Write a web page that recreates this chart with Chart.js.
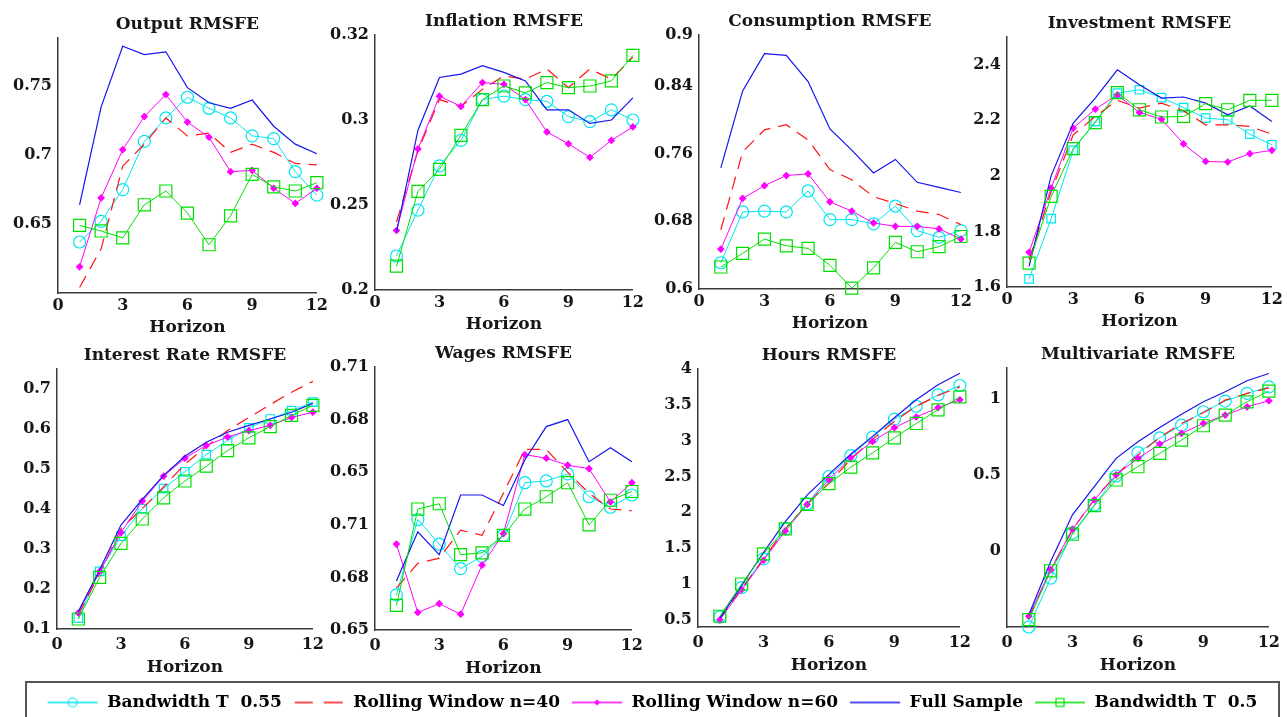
<!DOCTYPE html>
<html>
<head>
<meta charset="utf-8">
<script src="https://cdn.jsdelivr.net/npm/chart.js@4.4.1/dist/chart.umd.min.js"></script>
<style>
  body { margin: 0; width: 1287px; height: 717px; overflow: hidden; background: #fff; position: relative; }
  canvas { position: absolute; }
  #legendBox { position: absolute; left: 25px; top: 681px; width: 1255px; height: 50px; border: 2px solid #555; box-sizing: border-box; }
</style>
</head>
<body>
<div id="legendBox"></div>
<script>
const horizons = [1, 2, 3, 4, 5, 6, 7, 8, 9, 10, 11, 12];
const seriesLabels = ['Bandwidth T  0.55', 'Rolling Window n=40', 'Rolling Window n=60', 'Full Sample', 'Bandwidth T  0.5'];
const xTicks = [0, 3, 6, 9, 12];

// Output RMSFE
const outputBw055 = [0.637, 0.652, 0.675, 0.710, 0.727, 0.742, 0.734, 0.727, 0.714, 0.712, 0.688, 0.671];
const outputRw40  = [0.604, 0.632, 0.692, 0.708, 0.727, 0.714, 0.716, 0.702, 0.708, 0.702, 0.694, 0.693];
const outputRw60  = [0.619, 0.669, 0.704, 0.728, 0.744, 0.724, 0.713, 0.688, 0.689, 0.676, 0.665, 0.676];
const outputFull  = [0.664, 0.735, 0.779, 0.773, 0.775, 0.749, 0.738, 0.734, 0.740, 0.721, 0.708, 0.701];
const outputBw05  = [0.649, 0.645, 0.640, 0.664, 0.674, 0.658, 0.635, 0.656, 0.686, 0.677, 0.674, 0.680];
const outputTicks = [0.65, 0.7, 0.75];

// Inflation RMSFE
const inflationBw055 = [0.220, 0.247, 0.273, 0.288, 0.312, 0.314, 0.312, 0.311, 0.302, 0.299, 0.306, 0.300];
const inflationRw40  = [0.240, 0.282, 0.312, 0.308, 0.318, 0.326, 0.324, 0.330, 0.319, 0.330, 0.324, 0.337];
const inflationRw60  = [0.235, 0.283, 0.314, 0.308, 0.322, 0.321, 0.312, 0.293, 0.286, 0.278, 0.288, 0.296];
const inflationFull  = [0.234, 0.294, 0.325, 0.327, 0.332, 0.328, 0.323, 0.306, 0.306, 0.298, 0.300, 0.313];
const inflationBw05  = [0.214, 0.258, 0.271, 0.291, 0.312, 0.320, 0.316, 0.322, 0.319, 0.320, 0.323, 0.338];
const inflationTicks = [0.2, 0.25, 0.3, 0.35];
const inflationTickLabels = ['0.2', '0.25', '0.3', '0.32'];

// Consumption RMSFE
const consumptionBw055 = [0.631, 0.691, 0.692, 0.691, 0.716, 0.682, 0.682, 0.677, 0.698, 0.669, 0.661, 0.669];
const consumptionRw40  = [0.670, 0.762, 0.788, 0.794, 0.776, 0.741, 0.729, 0.709, 0.701, 0.692, 0.688, 0.676];
const consumptionRw60  = [0.647, 0.707, 0.722, 0.734, 0.736, 0.703, 0.692, 0.678, 0.674, 0.674, 0.671, 0.659];
const consumptionFull  = [0.743, 0.834, 0.878, 0.876, 0.845, 0.789, 0.764, 0.737, 0.753, 0.726, 0.720, 0.714];
const consumptionBw05  = [0.626, 0.642, 0.659, 0.651, 0.648, 0.628, 0.601, 0.625, 0.655, 0.644, 0.650, 0.662];
const consumptionTicks = [0.6, 0.68, 0.76, 0.84, 0.9];

// Investment RMSFE
const investmentBw055 = [1.629, 1.846, 2.092, 2.196, 2.298, 2.310, 2.282, 2.246, 2.208, 2.202, 2.150, 2.112];
const investmentRw40  = [1.698, 1.944, 2.148, 2.214, 2.272, 2.244, 2.262, 2.234, 2.184, 2.184, 2.178, 2.150];
const investmentRw60  = [1.725, 1.956, 2.172, 2.240, 2.292, 2.228, 2.204, 2.115, 2.052, 2.050, 2.080, 2.092];
const investmentFull  = [1.674, 2.000, 2.190, 2.280, 2.382, 2.328, 2.280, 2.284, 2.262, 2.220, 2.252, 2.196];
const investmentBw05  = [1.686, 1.926, 2.098, 2.192, 2.300, 2.238, 2.212, 2.214, 2.260, 2.238, 2.272, 2.272];
const investmentTicks = [1.6, 1.8, 2, 2.2, 2.4];

// Interest Rate RMSFE
const interestBw055 = [0.127, 0.244, 0.332, 0.401, 0.451, 0.493, 0.536, 0.571, 0.603, 0.625, 0.646, 0.667];
const interestRw40  = [0.136, 0.239, 0.351, 0.401, 0.455, 0.512, 0.556, 0.596, 0.629, 0.661, 0.692, 0.719];
const interestRw60  = [0.140, 0.244, 0.341, 0.420, 0.482, 0.527, 0.559, 0.580, 0.596, 0.609, 0.629, 0.642];
const interestFull  = [0.144, 0.248, 0.360, 0.424, 0.484, 0.532, 0.567, 0.592, 0.609, 0.625, 0.642, 0.664];
const interestBw05  = [0.125, 0.229, 0.314, 0.375, 0.428, 0.470, 0.507, 0.546, 0.578, 0.606, 0.634, 0.659];
const interestTicks = [0.1, 0.2, 0.3, 0.4, 0.5, 0.6, 0.7];

// Wages RMSFE
const wagesBw055 = [0.580, 0.623, 0.609, 0.595, 0.602, 0.614, 0.644, 0.645, 0.649, 0.636, 0.630, 0.637];
const wagesRw40  = [0.584, 0.598, 0.601, 0.617, 0.614, 0.638, 0.663, 0.663, 0.650, 0.638, 0.629, 0.628];
const wagesRw60  = [0.609, 0.570, 0.575, 0.569, 0.597, 0.615, 0.660, 0.658, 0.654, 0.652, 0.633, 0.644];
const wagesFull  = [0.588, 0.616, 0.603, 0.637, 0.637, 0.631, 0.657, 0.676, 0.680, 0.656, 0.664, 0.656];
const wagesBw05  = [0.574, 0.629, 0.632, 0.603, 0.604, 0.614, 0.629, 0.636, 0.644, 0.620, 0.634, 0.639];
const wagesTicks = [0.56, 0.59, 0.62, 0.65, 0.68, 0.71];
const wagesTickLabels = ['0.65', '0.68', '0.71', '0.65', '0.68', '0.71'];

// Hours RMSFE
const hoursBw055 = [0.54, 0.95, 1.35, 1.77, 2.12, 2.50, 2.79, 3.05, 3.30, 3.48, 3.64, 3.77];
const hoursRw40  = [0.51, 0.93, 1.35, 1.77, 2.11, 2.41, 2.74, 3.02, 3.27, 3.48, 3.63, 3.75];
const hoursRw60  = [0.50, 0.92, 1.33, 1.74, 2.11, 2.46, 2.76, 2.99, 3.18, 3.33, 3.46, 3.57];
const hoursFull  = [0.52, 0.98, 1.44, 1.87, 2.24, 2.53, 2.81, 3.06, 3.32, 3.57, 3.78, 3.94];
const hoursBw05  = [0.55, 1.00, 1.42, 1.77, 2.11, 2.40, 2.63, 2.83, 3.04, 3.24, 3.43, 3.61];
const hoursTicks = [0.5, 1, 1.5, 2, 2.5, 3, 3.5, 4];

// Multivariate RMSFE
const multiBw055 = [-0.500, -0.179, 0.116, 0.301, 0.491, 0.644, 0.742, 0.825, 0.913, 0.983, 1.033, 1.076];
const multiRw40  = [-0.441, -0.124, 0.138, 0.338, 0.498, 0.629, 0.745, 0.836, 0.906, 0.989, 1.033, 1.070];
const multiRw60  = [-0.430, -0.124, 0.142, 0.334, 0.498, 0.607, 0.701, 0.771, 0.836, 0.891, 0.945, 0.985];
const multiFull  = [-0.419, -0.070, 0.236, 0.421, 0.607, 0.716, 0.810, 0.897, 0.978, 1.044, 1.116, 1.164];
const multiBw05  = [-0.452, -0.131, 0.109, 0.297, 0.465, 0.552, 0.640, 0.727, 0.821, 0.891, 0.978, 1.048];
const multiTicks = [0, 0.5, 1];

// panel layout: chart area box [left, top, right, bottom] in page pixels
const panels = [
  { title: 'Output RMSFE', series: [outputBw055, outputRw40, outputRw60, outputFull, outputBw05], min: 0.6, max: 0.785, ticks: outputTicks, box: [58, 38, 317, 293], cyan: 'circle' },
  { title: 'Inflation RMSFE', series: [inflationBw055, inflationRw40, inflationRw60, inflationFull, inflationBw05], min: 0.2, max: 0.35, ticks: inflationTicks, labels: inflationTickLabels, box: [375, 35, 633, 290], cyan: 'circle' },
  { title: 'Consumption RMSFE', series: [consumptionBw055, consumptionRw40, consumptionRw60, consumptionFull, consumptionBw05], min: 0.6, max: 0.9, ticks: consumptionTicks, box: [699, 35, 961, 289], cyan: 'circle' },
  { title: 'Investment RMSFE', series: [investmentBw055, investmentRw40, investmentRw60, investmentFull, investmentBw05], min: 1.6, max: 2.5, ticks: investmentTicks, box: [1007, 37, 1272, 287], cyan: 'rect' },
  { title: 'Interest Rate RMSFE', series: [interestBw055, interestRw40, interestRw60, interestFull, interestBw05], min: 0.1, max: 0.75, ticks: interestTicks, box: [57, 369, 316, 629], cyan: 'rect' },
  { title: 'Wages RMSFE', series: [wagesBw055, wagesRw40, wagesRw60, wagesFull, wagesBw05], min: 0.56, max: 0.71, ticks: wagesTicks, labels: wagesTickLabels, box: [375, 367, 635, 630], cyan: 'circle' },
  { title: 'Hours RMSFE', series: [hoursBw055, hoursRw40, hoursRw60, hoursFull, hoursBw05], min: 0.4, max: 4, ticks: hoursTicks, box: [698, 369, 963, 627], cyan: 'circle' },
  { title: 'Multivariate RMSFE', series: [multiBw055, multiRw40, multiRw60, multiFull, multiBw05], min: -0.5, max: 1.2, ticks: multiTicks, box: [1007, 368, 1272, 627], cyan: 'circle' }
];

const styles = [
  { color: '#00e6f0', dash: [], width: 1, point: 'circle', radius: 6, fill: 'rgba(0,0,0,0)' },
  { color: '#ff1414', dash: [13, 8], width: 1.2, point: false, radius: 0 },
  { color: '#ff00ff', dash: [], width: 1, point: 'rectRot', radius: 3, fill: '#ff00ff' },
  { color: '#1414ee', dash: [], width: 1.2, point: false, radius: 0 },
  { color: '#00e000', dash: [], width: 1, point: 'rect', radius: 8.5, fill: 'rgba(0,0,0,0)' }
];

const serif = 'DejaVu Serif';
const ink = '#161616';
const yAxisW = 58;
const padRight = 14;

function makePanel(p, i) {
  const [xA, T, xR, B] = p.box;
  const bottomRow = i >= 4;
  const xAxisH = bottomRow ? 51 : 47;
  const titleBlock = 33;
  const cv = document.createElement('canvas');
  cv.width = xR - xA + yAxisW + padRight;
  cv.height = titleBlock + (B - T) + xAxisH;
  cv.style.left = (xA - yAxisW) + 'px';
  cv.style.top = (T - titleBlock) + 'px';
  document.body.appendChild(cv);

  const datasets = p.series.map((vals, k) => {
    const s = styles[k];
    const shape = k === 0 ? p.cyan : s.point;
    return {
      label: seriesLabels[k],
      data: horizons.map((h, j) => ({ x: h, y: vals[j] })),
      borderColor: s.color,
      borderWidth: s.width,
      borderDash: s.dash,
      pointStyle: shape || 'circle',
      pointRadius: s.radius,
      pointBorderColor: s.color,
      pointBackgroundColor: s.fill || s.color,
      pointBorderWidth: 1.2,
      tension: 0,
      clip: false,
      order: 5 - k
    };
  });

  new Chart(cv, {
    type: 'line',
    data: { datasets },
    options: {
      responsive: false,
      animation: false,
      layout: { padding: { left: 0, right: padRight, top: 0, bottom: 0 } },
      plugins: {
        legend: { display: false },
        tooltip: { enabled: false },
        title: {
          display: true,
          fullSize: false, // centre the title over the plot area
          text: p.title,
          color: ink,
          font: { family: serif, weight: 'bold', size: 17, lineHeight: '20px' },
          padding: { top: 10, bottom: 3 }
        }
      },
      scales: {
        x: {
          type: 'linear',
          min: 0,
          max: 12,
          afterBuildTicks: ax => { ax.ticks = xTicks.map(v => ({ value: v })); },
          afterFit: ax => { ax.height = xAxisH; },
          grid: { display: false, drawTicks: false },
          border: { display: true, color: '#3a3a3a', width: 1.5 },
          ticks: { color: ink, maxRotation: 0, padding: bottomRow ? 6 : 3, font: { family: serif, weight: 'bold', size: 16 } },
          title: { display: true, text: 'Horizon', color: ink, padding: { top: 0, bottom: 2 }, font: { family: serif, weight: 'bold', size: 17, lineHeight: '20px' } }
        },
        y: {
          type: 'linear',
          min: p.min,
          max: p.max,
          afterBuildTicks: ax => { ax.ticks = p.ticks.map(v => ({ value: v })); },
          afterFit: ax => { ax.width = yAxisW; },
          grid: { display: false, drawTicks: false },
          border: { display: true, color: '#3a3a3a', width: 1.5 },
          ticks: {
            color: ink,
            padding: 6,
            font: { family: serif, weight: 'bold', size: 16 },
            callback: (v, idx) => p.labels ? p.labels[idx] : String(v)
          }
        }
      }
    }
  });
}

panels.forEach(makePanel);

// legend glyphs: short line sample with the series marker
function legendGlyph(s, k) {
  const c = document.createElement('canvas');
  c.width = 52;
  c.height = 16;
  const g = c.getContext('2d');
  g.strokeStyle = s.color;
  g.lineWidth = 1.5;
  g.beginPath();
  if (k === 1) {
    g.moveTo(2, 8); g.lineTo(20, 8);
    g.moveTo(31, 8); g.lineTo(50, 8);
  } else {
    g.moveTo(1, 8); g.lineTo(51, 8);
  }
  g.stroke();
  g.lineWidth = 1.2;
  if (s.point === 'circle') {
    g.beginPath(); g.arc(26, 8, 4.5, 0, Math.PI * 2); g.stroke();
  } else if (s.point === 'rect') {
    g.strokeRect(22, 4, 8, 8);
  } else if (s.point === 'rectRot') {
    g.fillStyle = s.color;
    g.beginPath(); g.moveTo(26, 5); g.lineTo(29, 8); g.lineTo(26, 11); g.lineTo(23, 8); g.closePath(); g.fill();
  }
  return c;
}
const glyphs = styles.map(legendGlyph);

const lg = document.createElement('canvas');
lg.width = 1250;
lg.height = 90;
lg.style.left = '27px';
lg.style.top = '683px';
document.body.appendChild(lg);

new Chart(lg, {
  type: 'line',
  data: { datasets: seriesLabels.map(l => ({ label: l, data: [] })) },
  options: {
    responsive: false,
    animation: false,
    layout: { padding: 0 },
    scales: { x: { display: false }, y: { display: false } },
    plugins: {
      tooltip: { enabled: false },
      legend: {
        display: true,
        position: 'top',
        labels: {
          usePointStyle: true,
          pointStyleWidth: 52,
          padding: 11,
          color: ink,
          font: { family: serif, weight: 'bold', size: 17 },
          generateLabels: () => seriesLabels.map((l, k) => ({
            text: l,
            pointStyle: glyphs[k],
            fillStyle: 'rgba(0,0,0,0)',
            strokeStyle: 'rgba(0,0,0,0)',
            lineWidth: 0,
            hidden: false,
            datasetIndex: k
          }))
        }
      }
    }
  }
});
</script>
</body>
</html>
